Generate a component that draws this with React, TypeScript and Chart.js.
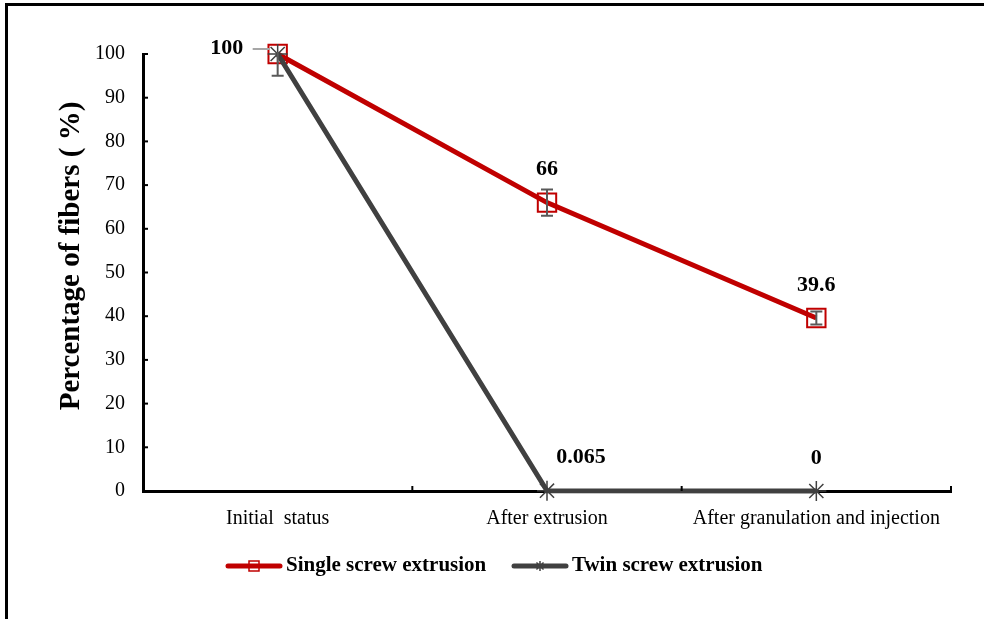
import React, { useEffect, useRef } from "react";
import { Chart, registerables } from "chart.js";

Chart.register(...registerables);

const categories = ["Initial  status", "After extrusion", "After granulation and injection"];
const singleScrew = [100, 66, 39.6];
const singleScrewError = [5, 3, 1.5];
const twinScrew = [100, 0.065, 0];
const singleLabels = ["100", "66", "39.6"];
const twinLabels = ["", "0.065", "0"];
const seriesNames = ["Single screw extrusion", "Twin screw extrusion"];
const yTitle = "Percentage of fibers ( %)";
const yTickStep = 10;

const RED = "#C00000";
const DARK = "#404040";
const SERIF = '"Liberation Serif", "Times New Roman", serif';

const overlayPlugin = {
  id: "overlay",
  afterDatasetsDraw(chart: any) {
    const { ctx, chartArea, scales } = chart;
    const x = scales.x;
    const y = scales.y;
    ctx.save();

    // inward tick marks
    ctx.strokeStyle = "#000";
    ctx.lineWidth = 2;
    for (let i = 0; i <= categories.length; i++) {
      const px = x.getPixelForValue(i - 0.5);
      ctx.beginPath();
      ctx.moveTo(px, chartArea.bottom);
      ctx.lineTo(px, chartArea.bottom - 5);
      ctx.stroke();
    }
    for (let v = 0; v <= 100; v += yTickStep) {
      const py = y.getPixelForValue(v);
      ctx.beginPath();
      ctx.moveTo(chartArea.left, py);
      ctx.lineTo(chartArea.left + 5, py);
      ctx.stroke();
    }

    // error bars (clipped to plot area)
    ctx.save();
    ctx.beginPath();
    ctx.rect(chartArea.left, chartArea.top - 2, chartArea.right - chartArea.left, chartArea.bottom - chartArea.top + 4);
    ctx.clip();
    ctx.strokeStyle = "#595959";
    ctx.lineWidth = 2;
    singleScrew.forEach((v, i) => {
      const e = singleScrewError[i];
      const px = x.getPixelForValue(i);
      const t = y.getPixelForValue(v + e);
      const b = y.getPixelForValue(v - e);
      ctx.beginPath();
      ctx.moveTo(px, t);
      ctx.lineTo(px, b);
      ctx.moveTo(px - 6, t);
      ctx.lineTo(px + 6, t);
      ctx.moveTo(px - 6, b);
      ctx.lineTo(px + 6, b);
      ctx.stroke();
    });
    ctx.restore();

    // data labels
    ctx.fillStyle = "#000";
    ctx.font = `bold 22px ${SERIF}`;
    ctx.textAlign = "center";
    ctx.textBaseline = "middle";
    singleScrew.forEach((v, i) => {
      const px = x.getPixelForValue(i);
      const py = y.getPixelForValue(v);
      if (i === 0) {
        ctx.fillText(singleLabels[i], px - 51, py - 6);
        ctx.strokeStyle = "#A6A6A6";
        ctx.lineWidth = 2;
        ctx.beginPath();
        ctx.moveTo(px - 25, py - 5);
        ctx.lineTo(px - 8, py - 5);
        ctx.stroke();
      } else {
        ctx.fillText(singleLabels[i], px, py - 33);
      }
    });
    twinScrew.forEach((v, i) => {
      if (!twinLabels[i]) return;
      const px = x.getPixelForValue(i);
      const py = y.getPixelForValue(v);
      const dx = i === 1 ? 34 : 0;
      ctx.fillText(twinLabels[i], px + dx, py - 33);
    });

    // y-axis title
    ctx.save();
    ctx.translate(72, 256);
    ctx.rotate(-Math.PI / 2);
    ctx.font = `bold 29px ${SERIF}`;
    ctx.fillText(yTitle, 0, 0);
    ctx.restore();

    ctx.restore();
  },
  afterDraw(chart: any) {
    const { ctx } = chart;
    ctx.save();
    const ly = 566;
    const items = [
      { x: 228, color: RED, marker: "rect", name: seriesNames[0] },
      { x: 514, color: DARK, marker: "star", name: seriesNames[1] },
    ];
    items.forEach((it) => {
      ctx.strokeStyle = it.color;
      ctx.lineWidth = 5;
      ctx.lineCap = "round";
      ctx.beginPath();
      ctx.moveTo(it.x, ly);
      ctx.lineTo(it.x + 52, ly);
      ctx.stroke();
      const cx = it.x + 26;
      ctx.lineWidth = 1.5;
      ctx.lineCap = "butt";
      if (it.marker === "rect") {
        ctx.strokeStyle = RED;
        ctx.strokeRect(cx - 5, ly - 5, 10, 10);
      } else {
        ctx.beginPath();
        for (let a = 0; a < 4; a++) {
          const ang = (a * Math.PI) / 4;
          ctx.moveTo(cx - 5 * Math.cos(ang), ly - 5 * Math.sin(ang));
          ctx.lineTo(cx + 5 * Math.cos(ang), ly + 5 * Math.sin(ang));
        }
        ctx.stroke();
      }
      ctx.fillStyle = "#000";
      ctx.font = `bold 21px ${SERIF}`;
      ctx.textAlign = "left";
      ctx.textBaseline = "middle";
      ctx.fillText(it.name, it.x + 58, ly);
    });
    ctx.restore();
  },
};

export default function App() {
  const canvasRef = useRef<HTMLCanvasElement | null>(null);

  useEffect(() => {
    if (!canvasRef.current) return;
    const chart = new Chart(canvasRef.current, {
      type: "line",
      data: {
        labels: categories,
        datasets: [
          {
            label: seriesNames[0],
            data: singleScrew,
            borderColor: RED,
            borderWidth: 5,
            pointStyle: "rect",
            pointRadius: 13,
            pointBorderWidth: 2,
            pointBorderColor: RED,
            pointBackgroundColor: "rgba(0,0,0,0)",
            order: 1,
            tension: 0,
            clip: false,
          },
          {
            label: seriesNames[1],
            data: twinScrew,
            borderColor: DARK,
            borderWidth: 5,
            pointStyle: "star",
            pointRadius: 10,
            pointBorderWidth: 1.5,
            pointBorderColor: DARK,
            pointBackgroundColor: DARK,
            order: 0,
            tension: 0,
            clip: false,
          },
        ],
      },
      options: {
        animation: false,
        responsive: false,
        layout: { padding: { left: 0, right: 33, top: 54, bottom: 0 } },
        plugins: {
          legend: { display: false },
          tooltip: { enabled: false },
        },
        scales: {
          x: {
            type: "category",
            offset: true,
            grid: { display: false, drawTicks: false },
            border: { display: true, color: "#000", width: 3 },
            ticks: {
              color: "#000",
              font: { family: SERIF, size: 20 },
              padding: 16,
              maxRotation: 0,
              autoSkip: false,
            },
            afterFit: (s: any) => {
              s.height = 128;
            },
          },
          y: {
            min: 0,
            max: 100,
            grid: { display: false, drawTicks: false },
            border: { display: true, color: "#000", width: 3 },
            ticks: {
              stepSize: yTickStep,
              color: "#000",
              font: { family: SERIF, size: 20 },
              padding: 18,
            },
            afterFit: (s: any) => {
              s.width = 143;
            },
          },
        },
      },
      plugins: [overlayPlugin],
    });
    return () => chart.destroy();
  }, []);

  return (
    <div style={{ position: "fixed", left: 0, top: 0, width: 984, height: 619, background: "#fff", overflow: "hidden" }}>
      <canvas ref={canvasRef} width={984} height={619} style={{ position: "absolute", left: 0, top: 0, width: 984, height: 619 }} />
      <div
        style={{
          position: "absolute",
          left: 5,
          top: 3,
          width: 1100,
          height: 800,
          borderTop: "3px solid #000",
          borderLeft: "3px solid #000",
          pointerEvents: "none",
        }}
      />
    </div>
  );
}
